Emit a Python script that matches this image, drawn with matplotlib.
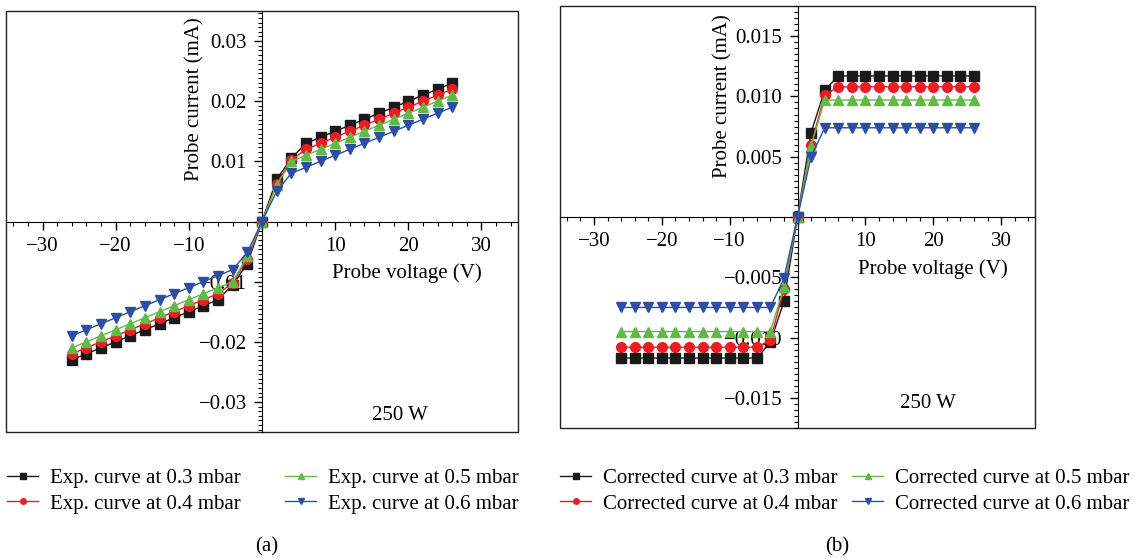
import matplotlib
matplotlib.use('Agg')
import matplotlib.pyplot as plt
from matplotlib.patches import Rectangle
from matplotlib.ticker import MultipleLocator, AutoMinorLocator, FuncFormatter

plt.rcParams['font.family'] = ['Liberation Serif', 'DejaVu Serif']
plt.rcParams['font.size'] = 15

# Probe voltage (V)
voltage = [-26, -24, -22, -20, -18, -16, -14, -12, -10, -8, -6, -4, -2, 0,
           2, 4, 6, 8, 10, 12, 14, 16, 18, 20, 22, 24, 26]

# (a) experimental curves, probe current (mA)
exp_03 = [-0.023, -0.022, -0.021, -0.020, -0.019, -0.018, -0.017, -0.016, -0.015, -0.014, -0.013, -0.0105, -0.007, 0.0,
          0.007, 0.0105, 0.013, 0.014, 0.015, 0.016, 0.017, 0.018, 0.019, 0.020, 0.021, 0.022, 0.023]
exp_04 = [-0.022, -0.021, -0.020, -0.019, -0.018, -0.017, -0.016, -0.015, -0.014, -0.013, -0.012, -0.0102, -0.0063, 0.0,
          0.0063, 0.0102, 0.012, 0.013, 0.014, 0.015, 0.016, 0.017, 0.018, 0.019, 0.020, 0.021, 0.022]
exp_05 = [-0.021, -0.020, -0.019, -0.018, -0.017, -0.016, -0.015, -0.014, -0.013, -0.012, -0.011, -0.010, -0.0058, 0.0,
          0.006, 0.010, 0.011, 0.012, 0.013, 0.014, 0.015, 0.016, 0.017, 0.018, 0.019, 0.020, 0.021]
exp_06 = [-0.019, -0.018, -0.017, -0.016, -0.015, -0.014, -0.013, -0.012, -0.011, -0.010, -0.009, -0.008, -0.0051, 0.0,
          0.005, 0.008, 0.009, 0.010, 0.011, 0.012, 0.013, 0.014, 0.015, 0.016, 0.017, 0.018, 0.019]

# (b) corrected curves, probe current (mA)
cor_03 = [-0.0117, -0.0117, -0.0117, -0.0117, -0.0117, -0.0117, -0.0117, -0.0117, -0.0117, -0.0117, -0.0117, -0.0104, -0.0070, 0.0,
          0.0070, 0.0105, 0.0117, 0.0117, 0.0117, 0.0117, 0.0117, 0.0117, 0.0117, 0.0117, 0.0117, 0.0117, 0.0117]
cor_04 = [-0.0108, -0.0108, -0.0108, -0.0108, -0.0108, -0.0108, -0.0108, -0.0108, -0.0108, -0.0108, -0.0108, -0.0102, -0.0060, 0.0,
          0.0060, 0.0101, 0.0108, 0.0108, 0.0108, 0.0108, 0.0108, 0.0108, 0.0108, 0.0108, 0.0108, 0.0108, 0.0108]
cor_05 = [-0.0095, -0.0095, -0.0095, -0.0095, -0.0095, -0.0095, -0.0095, -0.0095, -0.0095, -0.0095, -0.0095, -0.0095, -0.0058, 0.0,
          0.0059, 0.0097, 0.0097, 0.0097, 0.0097, 0.0097, 0.0097, 0.0097, 0.0097, 0.0097, 0.0097, 0.0097, 0.0097]
cor_06 = [-0.0075, -0.0075, -0.0075, -0.0075, -0.0075, -0.0075, -0.0075, -0.0075, -0.0075, -0.0075, -0.0075, -0.0075, -0.0051, 0.0,
          0.0050, 0.0074, 0.0074, 0.0074, 0.0074, 0.0074, 0.0074, 0.0074, 0.0074, 0.0074, 0.0074, 0.0074, 0.0074]

pressures = ['0.3', '0.4', '0.5', '0.6']
colors = ['#1a1a1a', '#ec1c24', '#62b946', '#2c4ea3']
markers = ['s', 'o', '^', 'v']


def fmt(decimals):
    def f(v, pos):
        if abs(v) < 1e-12:
            return ''
        return '{:.{}f}'.format(v, decimals).replace('-', '\u2212')
    return FuncFormatter(f)


def draw_panel(ax, series, ylim, ymajor, yminor, ydec, ylab_xy, xlab_xy, watt_xy):
    for vals, c, m in zip(series, colors, markers):
        ax.plot(voltage, vals, color=c, marker=m, ms=7, mec=c, lw=1.0, zorder=3)
    ax.set_xlim(-35, 35)
    ax.set_ylim(-ylim, ylim)
    for s in ['top', 'right']:
        ax.spines[s].set_visible(False)
    ax.spines['left'].set_position('zero')
    ax.spines['bottom'].set_position('zero')
    ax.add_patch(Rectangle((0, 0), 1, 1, transform=ax.transAxes, fill=False,
                           lw=1.0, ec='#222222', clip_on=False))
    ax.xaxis.set_major_locator(MultipleLocator(10))
    ax.xaxis.set_minor_locator(MultipleLocator(2))
    ax.yaxis.set_major_locator(MultipleLocator(ymajor))
    ax.yaxis.set_minor_locator(AutoMinorLocator(yminor))
    ax.xaxis.set_major_formatter(fmt(0))
    ax.yaxis.set_major_formatter(fmt(ydec))
    ax.tick_params(which='major', length=6, width=1, labelsize=15)
    ax.tick_params(which='minor', length=3, width=0.8)
    ax.tick_params(axis='x', pad=5)
    ax.tick_params(axis='y', pad=5)
    ax.set_ylabel('Probe current (mA)', fontsize=15, va='center')
    ax.yaxis.set_label_coords(*ylab_xy)
    ax.set_xlabel('Probe voltage (V)', fontsize=15, va='center')
    ax.xaxis.set_label_coords(*xlab_xy)
    ax.text(watt_xy[0], watt_xy[1], '250 W', transform=ax.transAxes,
            ha='center', va='center', fontsize=15)


W, H = 1137, 559
fig = plt.figure(figsize=(W / 100, H / 100), dpi=100)

axA = fig.add_axes([6 / W, 1 - 432 / H, 512 / W, 421 / H])
draw_panel(axA, [exp_03, exp_04, exp_05, exp_06], 0.035, 0.01, 13, 2,
           (0.369, 0.791), (0.783, 0.378), (0.77, 0.04))

axB = fig.add_axes([560 / W, 1 - 428 / H, 475 / W, 422 / H])
draw_panel(axB, [cor_03, cor_04, cor_05, cor_06], 0.0175, 0.005, 10, 3,
           (0.343, 0.787), (0.785, 0.377), (0.775, 0.057))

# legends below each panel, one legend per column
handles = [plt.Line2D([], [], color=c, marker=m, ms=4, mec=c, lw=1.0) for c, m in zip(colors, markers)]
legend_cols = [
    ('Exp. curve at {} mbar', 7, [0, 1]),
    ('Exp. curve at {} mbar', 285, [2, 3]),
    ('Corrected curve at {} mbar', 560, [0, 1]),
    ('Corrected curve at {} mbar', 852, [2, 3]),
]
for text, x, idx in legend_cols:
    fig.legend([handles[i] for i in idx], [text.format(pressures[i]) for i in idx],
               loc='center left', bbox_to_anchor=(x / W, 1 - 491 / H),
               frameon=False, borderpad=0, borderaxespad=0, handlelength=1.5,
               handletextpad=0.55, labelspacing=0.3, fontsize=15)

fig.text(267 / W, 1 - 547 / H, '(a)', ha='center', va='center', fontsize=15)
fig.text(837 / W, 1 - 547 / H, '(b)', ha='center', va='center', fontsize=15)

plt.savefig('out.png', dpi=100)
